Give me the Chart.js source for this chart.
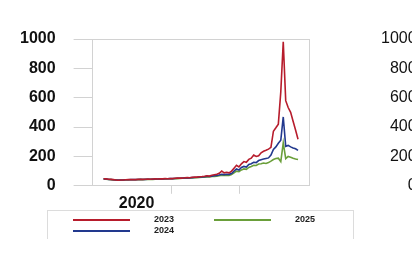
<!DOCTYPE html>
<html>
<head>
<meta charset="UTF-8">
<title>Chart</title>
<script src="https://cdn.jsdelivr.net/npm/chart.js"></script>
<style>
    html, body {
        margin: 0;
        padding: 0;
        background: #fff;
        overflow: hidden;
    }
    body {
        width: 412px;
        height: 261px;
        position: relative;
        font-family: "Liberation Sans", Arial, sans-serif;
    }
    #main {
        position: absolute;
        left: 0;
        top: 0;
        width: 412px;
        height: 261px;
    }
    #second {
        position: absolute;
        left: 361px;
        top: 0;
        width: 412px;
        height: 261px;
    }
    #legend {
        position: absolute;
        left: 47px;
        top: 210px;
        width: 305px;
        height: 28px;
        border: 1.5px solid #dcdcdc;
        border-bottom: none;
        font-size: 9px;
        font-weight: bold;
        color: #222;
    }
    .item {
        position: absolute;
        height: 11px;
    }
    .item .swatch {
        position: absolute;
        left: 0;
        top: 5px;
        width: 57px;
        height: 2px;
    }
    .item .txt {
        position: absolute;
        left: 81px;
        top: 0;
        white-space: nowrap;
    }
</style>
</head>
<body>
<div id="main"><canvas id="c1"></canvas></div>
<div id="second"><canvas id="c2"></canvas></div>
<div id="legend"></div>
<script>
// series names and colours
const seriesNames = ['2023', '2024', '2025'];
const seriesColors = ['#b71c2c', '#22398e', '#6a9f3a'];

// values (one point per step along the time axis)
const red2023 = [
    48, 47, 45, 44, 42, 40, 38, 39, 40, 41,
    42, 42, 43, 42, 44, 45, 44, 45, 46, 45,
    46, 47, 46, 48, 47, 49, 48, 50, 49, 51,
    52, 53, 52, 55, 56, 55, 58, 60, 59, 62,
    63, 65, 68, 66, 72, 75, 78, 85, 100, 88,
    92, 88, 100, 120, 140, 128, 150, 165, 160, 180,
    188, 210, 200, 205, 225, 235, 242, 250, 262, 372,
    395, 420, 640, 981, 580, 533, 500, 440, 380, 317
];
const blue2024 = [
    47, 46, 44, 43, 41, 40, 39, 39, 40, 41,
    41, 42, 42, 42, 43, 44, 43, 44, 45, 45,
    45, 46, 46, 47, 47, 48, 48, 49, 49, 50,
    51, 51, 52, 53, 54, 54, 56, 57, 58, 60,
    61, 62, 64, 63, 66, 68, 70, 73, 78, 76,
    79, 78, 84, 100, 115, 108, 125, 132, 128, 145,
    150, 160, 158, 172, 178, 182, 186, 190, 210, 248,
    265, 290, 310, 469, 269, 275, 265, 258, 252, 241
];
const green2025 = [
    46, 45, 43, 42, 40, 39, 38, 38, 39, 40,
    40, 41, 41, 41, 42, 43, 42, 43, 44, 44,
    44, 45, 45, 46, 46, 47, 47, 48, 48, 49,
    49, 50, 51, 52, 52, 53, 54, 55, 56, 57,
    58, 59, 61, 60, 63, 64, 66, 69, 72, 71,
    72, 71, 76, 88, 100, 96, 108, 115, 112, 125,
    132, 140, 138, 148, 150, 155, 152, 158, 168, 179,
    186, 188, 165, 292, 185, 200, 195, 188, 183, 179
];
const allSeries = [red2023, blue2024, green2025];

// axis ticks
const yTicks = [0, 200, 400, 600, 800, 1000];
const xLabelPos = 13.4;      // where "2020" sits
const xLabelText = '2020';
const xTickMarks = [27.55, 55.1];
const xMin = -4.46;
const xMax = 83.46;

const gridGray = '#d2d2d2';

function makeDatasets(withData) {
    return seriesNames.map((name, s) => ({
        label: name,
        data: withData ? allSeries[s].map((v, i) => ({ x: i, y: v })) : [],
        borderColor: seriesColors[s],
        backgroundColor: seriesColors[s],
        borderWidth: 1.6,
        pointRadius: 0,
        tension: 0,
        fill: false
    }));
}

function makeOptions(boldY) {
    return {
        responsive: true,
        maintainAspectRatio: false,
        animation: false,
        layout: { padding: { left: 2, right: 103, top: 39, bottom: 48 } },
        plugins: { legend: { display: false }, tooltip: { enabled: false } },
        scales: {
            x: {
                type: 'linear',
                min: xMin,
                max: xMax,
                afterBuildTicks: (axis) => {
                    axis.ticks = [{ value: xLabelPos }]
                        .concat(xTickMarks.map(v => ({ value: v })))
                        .concat([{ value: xMax }]);
                },
                border: { display: true, color: gridGray },
                grid: {
                    color: (ctx) => (ctx.tick && ctx.tick.value === xMax) ? gridGray : 'rgba(0,0,0,0)',
                    tickColor: (ctx) => (ctx.tick && xTickMarks.includes(ctx.tick.value)) ? gridGray : 'rgba(0,0,0,0)',
                    tickLength: 8
                },
                ticks: {
                    autoSkip: false,
                    maxRotation: 0,
                    padding: 0,
                    color: '#111',
                    font: { family: 'Liberation Sans', size: 16, weight: 'bold' },
                    callback: (v) => v === xLabelPos ? xLabelText : ''
                }
            },
            y: {
                min: 0,
                max: 1000,
                afterBuildTicks: (axis) => {
                    axis.ticks = yTicks.map(v => ({ value: v }));
                },
                border: { display: true, color: gridGray },
                grid: {
                    color: (ctx) => (ctx.tick && ctx.tick.value === 1000) ? gridGray : 'rgba(0,0,0,0)',
                    tickColor: gridGray,
                    tickLength: 19
                },
                ticks: {
                    padding: 18,
                    color: '#111',
                    font: { family: 'Liberation Sans', size: 16, weight: boldY ? 'bold' : 'normal' },
                    callback: (v) => String(v)
                }
            }
        }
    };
}

new Chart(document.getElementById('c1'), {
    type: 'line',
    data: { datasets: makeDatasets(true) },
    options: makeOptions(true)
});

// the neighbouring chart, only its axis labels show at the right edge
new Chart(document.getElementById('c2'), {
    type: 'line',
    data: { datasets: makeDatasets(false) },
    options: makeOptions(false)
});

// legend laid out in columns: 2023 / 2024 then 2025
const legendPos = [
    { left: 25, top: 3 },
    { left: 25, top: 14 },
    { left: 166, top: 3 }
];
const legend = document.getElementById('legend');
seriesNames.forEach((name, s) => {
    const item = document.createElement('div');
    item.className = 'item';
    item.style.left = legendPos[s].left + 'px';
    item.style.top = legendPos[s].top + 'px';
    item.innerHTML = '<span class="swatch" style="background:' + seriesColors[s] + '"></span>' +
        '<span class="txt">' + name + '</span>';
    legend.appendChild(item);
});
</script>
</body>
</html>
